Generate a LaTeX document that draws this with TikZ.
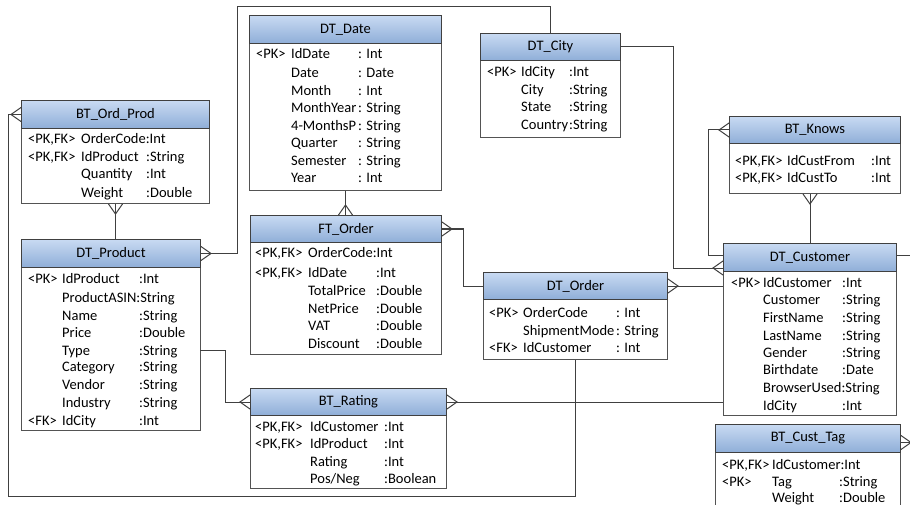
\documentclass[tikz,border=0pt]{standalone}
\usepackage{fontspec}
\setmainfont{Carlito}
\usetikzlibrary{calc}
\definecolor{hTop}{RGB}{200,218,242}
\definecolor{hBot}{RGB}{143,174,216}
\definecolor{lineC}{RGB}{64,64,64}
\newcommand\fs{\fontsize{14.5}{17}\selectfont}
\tikzset{
  hdr/.style={draw=lineC, line width=1pt, top color=hTop, bottom color=hBot, inner sep=0pt, font=\fs, anchor=north west},
  bodybox/.style={draw=lineC!90, line width=1pt, fill=white, inner sep=0pt, anchor=north west},
  txt/.style={inner sep=0pt, anchor=base west, font=\fs, text=black},
  conn/.style={draw=lineC, line width=1pt},
}
\newcounter{rc}
% name, x1, y1, x2, yh, y2, title
\newcommand\tbl[7]{%
  \node[bodybox, minimum width=\fpeval{#4-#2}pt, minimum height=\fpeval{#6-#5}pt] (#1) at (#2,#5) {};
  \node[hdr, minimum width=\fpeval{#4-#2}pt, minimum height=\fpeval{#5-#3}pt] (#1h) at (#2,#3) {#7};
}
\newcommand\cols[3]{\def\cA{#1}\def\cB{#2}\def\cC{#3}}
% y, prefix, field, type
\newcommand\rw[4]{%
  \stepcounter{rc}%
  \if\relax\detokenize{#2}\relax\else\node[txt] (p\arabic{rc}) at (\cA,#1+5) {#2};\fi
  \node[txt] (f\arabic{rc}) at (\cB,#1+5) {#3};
  \if\relax\detokenize{#4}\relax\else\node[txt] (t\arabic{rc}) at (\cC,#1+5) {#4};\fi
}
\newcommand\crowL[1]{\draw[conn] ($(#1)+(0,-7)$) -- ($(#1)+(-10,0)$) -- ($(#1)+(0,7)$);}
\newcommand\crowR[1]{\draw[conn] ($(#1)+(0,-7)$) -- ($(#1)+(10,0)$) -- ($(#1)+(0,7)$);}
\newcommand\crowU[1]{\draw[conn] ($(#1)+(-7,0)$) -- ($(#1)+(0,-10)$) -- ($(#1)+(7,0)$);}
\newcommand\crowD[1]{\draw[conn] ($(#1)+(-7,0)$) -- ($(#1)+(0,10)$) -- ($(#1)+(7,0)$);}
\begin{document}
\begin{tikzpicture}[x=1pt,y=-1pt]
\useasboundingbox (0,0) rectangle (910,505);
\clip (0,0) rectangle (910,505);
\fill[white] (0,0) rectangle (910,505);

\coordinate (L1) at (8,496);
\coordinate (R3) at (237,7);
\coordinate (k4) at (225,350);
\coordinate (p4) at (200,350);

% tables
\tbl{ordprod}{21}{100}{209}{128}{203}{BT\_Ord\_Prod}
\tbl{prod}{21}{239}{200}{267}{430}{DT\_Product}
\tbl{date}{249}{15}{441}{43}{190}{DT\_Date}
\tbl{city}{480}{33}{620}{60}{137}{DT\_City}
\tbl{knows}{729}{116}{900}{143}{193}{BT\_Knows}
\tbl{cust}{723}{243}{896}{271}{415}{DT\_Customer}
\tbl{ford}{250}{215}{441}{242}{354}{FT\_Order}
\tbl{dord}{483}{272}{667}{299}{359}{DT\_Order}
\tbl{rating}{250}{388}{446}{415}{488}{BT\_Rating}
\tbl{tag}{715}{424}{900}{452}{520}{BT\_Cust\_Tag}

% connectors
\draw[conn] (ordprodh.west) -| (L1) -| (dord.south);
\crowL{ordprodh.west}
\draw[conn] (ordprod.south) -- (ordprod.south |- prodh.north);
\crowD{ordprod.south}
\draw[conn] (prodh.east) -| (R3) -| (cityh.north);
\crowR{prodh.east}
\draw[conn] (p4) -- (k4) |- (ratingh.west);
\crowL{ratingh.west}
\coordinate (c5) at (date.south |- fordh.north);
\draw[conn] (date.south) -- (c5);
\crowU{c5}
\draw[conn] (fordh.east) -- ++(21,0) |- (dordh.west);
\crowR{fordh.east}
\coordinate (c7) at ($(custh.north west)+(0,25)$);
\draw[conn] (cityh.east) -- ++(52,0) |- (c7);
\crowL{c7}
\draw[conn] (dordh.east) -- (dordh.east -| custh.west);
\crowR{dordh.east}
\draw[conn] (ratingh.east) -- (ratingh.east -| cust.west);
\crowR{ratingh.east}
\coordinate (c10) at ($(custh.north west)+(0,12)$);
\draw[conn] (knowsh.west) -- ++(-21,0) |- (c10);
\crowL{knowsh.west}
\coordinate (c11) at ($(knows.south)+(-5,0)$);
\draw[conn] (c11) -- (c11 |- custh.north);
\crowD{c11}
\coordinate (c12) at ($(custh.north east)+(0,12)$);
\coordinate (c12b) at ($(tagh.east)+(0,4)$);
\draw[conn] (c12) -- ++(16,0) |- (c12b);
\crowR{c12b}

% ---------- rows ----------
\cols{28}{81}{146}
\rw{139}{<PK,FK>}{OrderCode:Int}{}
\rw{157}{<PK,FK>}{IdProduct}{:String}
\rw{174}{}{Quantity}{:Int}
\rw{192}{}{Weight}{:Double}

\cols{28}{62}{139}
\rw{278}{<PK>}{IdProduct}{:Int}
\rw{297}{}{ProductASIN:String}{}
\rw{315}{}{Name}{:String}
\rw{332}{}{Price}{:Double}
\rw{350}{}{Type}{:String}
\rw{366}{}{Category}{:String}
\rw{384}{}{Vendor}{:String}
\rw{402}{}{Industry}{:String}
\rw{420}{<FK>}{IdCity}{:Int}

\cols{256}{291}{358}
\rw{54}{<PK>}{IdDate}{: Int}
\rw{73}{}{Date}{: Date}
\rw{91}{}{Month}{: Int}
\rw{108}{}{MonthYear}{: String}
\rw{126}{}{4-MonthsP}{: String}
\rw{143}{}{Quarter}{: String}
\rw{161}{}{Semester}{: String}
\rw{178}{}{Year}{: Int}

\cols{487}{521}{569}
\rw{72}{<PK>}{IdCity}{:Int}
\rw{90}{}{City}{:String}
\rw{107}{}{State}{:String}
\rw{125}{}{Country}{:String}

\cols{735}{787}{871}
\rw{161}{<PK,FK>}{IdCustFrom}{:Int}
\rw{178}{<PK,FK>}{IdCustTo}{:Int}

\cols{731}{763}{842}
\rw{282}{<PK>}{IdCustomer}{:Int}
\rw{299}{}{Customer}{:String}
\rw{317}{}{FirstName}{:String}
\rw{335}{}{LastName}{:String}
\rw{352}{}{Gender}{:String}
\rw{369}{}{Birthdate}{:Date}
\rw{387}{}{BrowserUsed:String}{}
\rw{405}{}{IdCity}{:Int}

\cols{255}{308}{376}
\rw{253}{<PK,FK>}{OrderCode:Int}{}
\rw{272}{<PK,FK>}{IdDate}{:Int}
\rw{290}{}{TotalPrice}{:Double}
\rw{308}{}{NetPrice}{:Double}
\rw{325}{}{VAT}{:Double}
\rw{343}{}{Discount}{:Double}

\cols{489}{523}{616}
\rw{312}{<PK>}{OrderCode}{: Int}
\rw{330}{}{ShipmentMode}{: String}
\rw{347}{<FK>}{IdCustomer}{: Int}

\cols{255}{310}{384}
\rw{426}{<PK,FK>}{IdCustomer}{:Int}
\rw{443}{<PK,FK>}{IdProduct}{:Int}
\rw{461}{}{Rating}{:Int}
\rw{478}{}{Pos/Neg}{:Boolean}

\cols{722}{772}{839}
\rw{464}{<PK,FK>}{IdCustomer:Int}{}
\rw{481}{<PK>}{Tag}{:String}
\rw{497}{}{Weight}{:Double}
\end{tikzpicture}
\end{document}
